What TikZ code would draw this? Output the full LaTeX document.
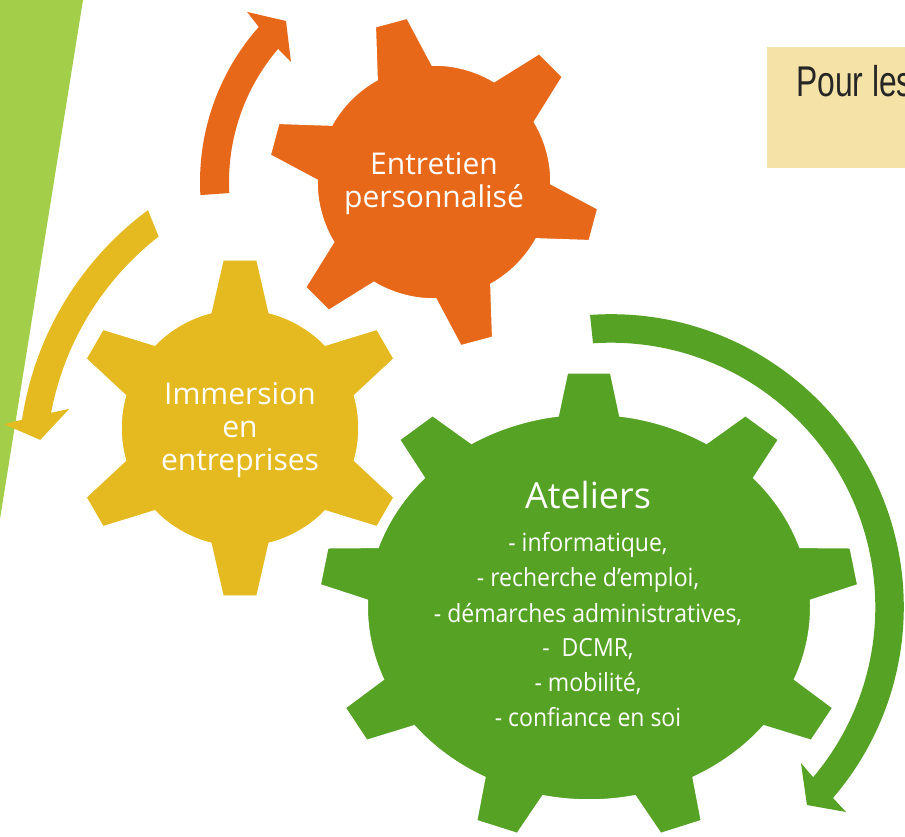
\documentclass[tikz,border=0pt]{standalone}
\usepackage{fontspec}
\newfontfamily\gearfont{Open Sans}
\newfontfamily\listfont[FakeStretch=0.92]{Open Sans}
\newfontfamily\boxfont[FakeStretch=0.74]{Liberation Sans}
\definecolor{gorange}{HTML}{E8681A}
\definecolor{gyellow}{HTML}{E5BA21}
\definecolor{ggreen}{HTML}{55A224}
\definecolor{band}{HTML}{A3CE4A}
\definecolor{boxfill}{HTML}{F5E2A6}
\definecolor{boxtext}{HTML}{262626}
\tikzset{
  gearshape/.style={draw=white, line width=1.5pt},
  gearlabel/.style={text=white, font=\gearfont\fontsize{30}{33}\selectfont, anchor=base, inner sep=0pt},
  titlelabel/.style={text=white, font=\gearfont\fontsize{36}{40}\selectfont, anchor=base, inner sep=0pt},
  listlabel/.style={text=white, font=\listfont\fontsize{25}{30}\selectfont, anchor=base, inner sep=0pt},
}
\begin{document}
\begin{tikzpicture}[x=1pt,y=1pt]
\clip (0,0) rectangle (905,836);
\fill[white] (0,0) rectangle (905,836);
% left band
\fill[band] (0,836) -- (83,836) -- (0,317) -- cycle;
% top-right box
\fill[boxfill] (767,668) rectangle (920,789);
\node[anchor=base west, inner sep=0pt, text=boxtext, font=\boxfont\fontsize{43}{48}\selectfont] (pour) at (796,739) {Pour les};

% yellow gear
\begin{scope}[shift={(240,408)}]
\path[fill=gyellow, gearshape] (30-14.2:119) \foreach \k in {0,...,5}{
  -- ({30+60*\k-14.2}:119) -- ({30+60*\k-5.8}:169) -- ({30+60*\k+5.8}:169) -- ({30+60*\k+14.2}:119)
  arc[start angle={30+60*\k+14.2}, end angle={90+60*\k-14.2}, radius=119]} -- cycle;
\end{scope}
% orange gear
\begin{scope}[shift={(434,654)}]
\path[fill=gorange, gearshape] (105-14.1:117) \foreach \k in {0,...,5}{
  -- ({105+60*\k-14.1}:117) -- ({105+60*\k-5.7}:166) -- ({105+60*\k+5.7}:166) -- ({105+60*\k+14.1}:117)
  arc[start angle={105+60*\k+14.1}, end angle={165+60*\k-14.1}, radius=117]} -- cycle;
\end{scope}
% green gear
\begin{scope}[shift={(589,229)}, xscale=1.149]
\path[fill=ggreen, gearshape] (90-8:193) \foreach \k in {0,...,8}{
  -- ({90+40*\k-8}:193) -- ({90+40*\k-4.6}:235) -- ({90+40*\k+4.6}:235) -- ({90+40*\k+8}:193)
  arc[start angle={90+40*\k+8}, end angle={130+40*\k-8}, radius=193]} -- cycle;
\end{scope}

% circular arrows
\begin{scope}[shift={(434,654)}]
\fill[gorange] (183.2:234) arc[start angle=183.2, end angle=138.5, radius=234]
  -- (137.7:252.7) -- (132.6:218.7) -- (140.0:186.7) -- (139.5:205)
  arc[start angle=139.5, end angle=183.1, radius=205] -- cycle;
\end{scope}
\begin{scope}[shift={(338,369)}]
\fill[gyellow] (126.5:319.5) arc[start angle=126.5, end angle=171.5, radius=319.5]
  -- (172.7:336.8) -- (174.8:299) -- (167.8:275) -- (169.3:292)
  arc[start angle=169.3, end angle=127.9, radius=292] -- cycle;
\end{scope}
\begin{scope}[shift={(611,229)}]
\fill[ggreen] (94.1:292.8) arc[start angle=94.1, end angle=-40.7, radius=292.8]
  -- (-41.1:311.8) -- (-45.3:278.6) -- (-39.4:245.8) -- (-40.1:264.3)
  arc[start angle=-40.1, end angle=93.9, radius=264.3] -- cycle;
\end{scope}

% labels
\node[gearlabel] (ent1) at (434,661) {Entretien};
\node[gearlabel] (ent2) at (434,628) {personnalisé};
\node[gearlabel] (imm1) at (240,431) {Immersion};
\node[gearlabel] (imm2) at (240,398) {en};
\node[gearlabel] (imm3) at (240,365) {entreprises};
\node[titlelabel] (ate) at (588,327) {Ateliers};
\node[listlabel] (l1) at (588,284) {- informatique,};
\node[listlabel] (l2) at (588,249) {- recherche d’emploi,};
\node[listlabel] (l3) at (588,214) {- démarches administratives,};
\node[listlabel] (l4) at (588,180) {-\ \ DCMR,};
\node[listlabel] (l5) at (588,145) {- mobilité,};
\node[listlabel] (l6) at (588,110) {- confiance en soi};
\end{tikzpicture}
\end{document}
